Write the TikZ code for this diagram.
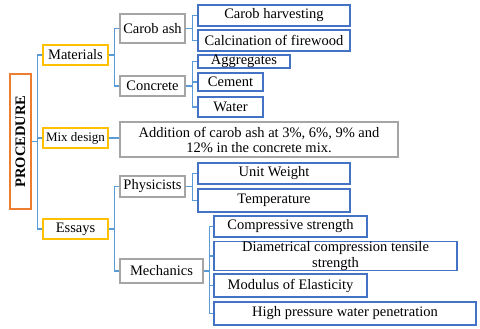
\documentclass[tikz,border=0pt]{standalone}
\usepackage{fontspec}
\setmainfont{Liberation Serif}
\definecolor{cline}{HTML}{5B9BD5}
\definecolor{cblue}{HTML}{4472C4}
\definecolor{cgray}{HTML}{A5A5A5}
\definecolor{cyel}{HTML}{FFC000}
\definecolor{corg}{HTML}{ED7D31}
\begin{document}
\begin{tikzpicture}[x=1pt,y=-1pt,
  box/.style={draw, line width=1.6pt, inner sep=0pt, align=center, fill=white,
    font=\fontsize{14.5}{15}\selectfont},
  bluebox/.style={box, draw=cblue},
  graybox/.style={box, draw=cgray},
  yelbox/.style={box, draw=cyel, line width=1.4pt},
  conn/.style={draw=cline, line width=1.3pt}]
\useasboundingbox (0,0) rectangle (480,329);
% level 0
\node[box, draw=corg, line width=1.5pt, minimum width=21pt, minimum height=135pt] (proc) at (20.5,141.5) {};
\node[rotate=90, font=\fontsize{14.5}{14}\selectfont\bfseries] (proct) at (proc.center) {PROCEDURE};
% level 1
\node[yelbox, minimum width=65pt, minimum height=20pt] (mat) at (75.5,55) {Materials};
\node[yelbox, minimum width=65pt, minimum height=20pt, font=\fontsize{13}{13}\selectfont] (mix) at (75.5,138) {Mix design};
\node[yelbox, minimum width=65pt, minimum height=20pt] (ess) at (75.5,229) {Essays};
% level 2
\node[graybox, minimum width=65pt, minimum height=29pt] (carob) at (152.5,28.5) {Carob ash};
\node[graybox, minimum width=65pt, minimum height=20pt] (conc) at (152.5,86) {Concrete};
\node[graybox, minimum width=278pt, minimum height=35pt] (add) at (259,139.5) {Addition of carob ash at 3\%, 6\%, 9\% and\\12\% in the concrete mix.};
\node[graybox, minimum width=65pt, minimum height=21pt] (phys) at (152.5,186.5) {Physicists};
\node[graybox, minimum width=83pt, minimum height=24pt] (mech) at (161.5,271) {Mechanics};
% level 3
\node[bluebox, minimum width=152pt, minimum height=21pt] (harv) at (274,15.5) {Carob harvesting};
\node[bluebox, minimum width=152pt, minimum height=21pt] (calc) at (274,40.5) {Calcination of firewood};
\node[bluebox, minimum width=92pt, minimum height=13pt] (aggr) at (244,61.5) {Aggregates};
\node[bluebox, minimum width=65pt, minimum height=18pt] (cem) at (230.5,82) {Cement};
\node[bluebox, minimum width=65pt, minimum height=20pt] (wat) at (230.5,107) {Water};
\node[bluebox, minimum width=152pt, minimum height=21pt] (unit) at (274,173.5) {Unit Weight};
\node[bluebox, minimum width=152pt, minimum height=23pt] (temp) at (274,200.5) {Temperature};
\node[bluebox, minimum width=153pt, minimum height=21pt] (comp) at (290.5,226.5) {Compressive strength};
\node[bluebox, minimum width=243pt, minimum height=26pt, font=\fontsize{14.5}{16}\selectfont] (diam) at (335.5,256) {Diametrical compression tensile\\strength};
\node[bluebox, minimum width=153pt, minimum height=23pt] (mod) at (290.5,285.5) {Modulus of Elasticity};
\node[bluebox, minimum width=262pt, minimum height=23pt] (high) at (345,313.5) {High pressure water penetration};
% connectors
\foreach \c in {mat,mix,ess} \draw[conn] (proc.east) -- ++(6,0) |- (\c.west);
\foreach \c in {carob,conc} \draw[conn] (mat.east) -- ++(6,0) |- (\c.west);
\draw[conn] (mix.east) -- (mix.east -| add.west);
\foreach \c in {phys,mech} \draw[conn] (ess.east) -- ++(6,0) |- (\c.west);
\foreach \c in {harv,calc} \draw[conn] (carob.east) -- ++(7,0) |- (\c.west);
\foreach \c in {aggr,cem,wat} \draw[conn] (conc.east) -- ++(7,0) |- (\c.west);
\foreach \c in {unit,temp} \draw[conn] (phys.east) -- ++(7,0) |- (\c.west);
\foreach \c in {comp,diam,mod,high} \draw[conn] (mech.east) -- ++(6,0) |- (\c.west);
\end{tikzpicture}
\end{document}
